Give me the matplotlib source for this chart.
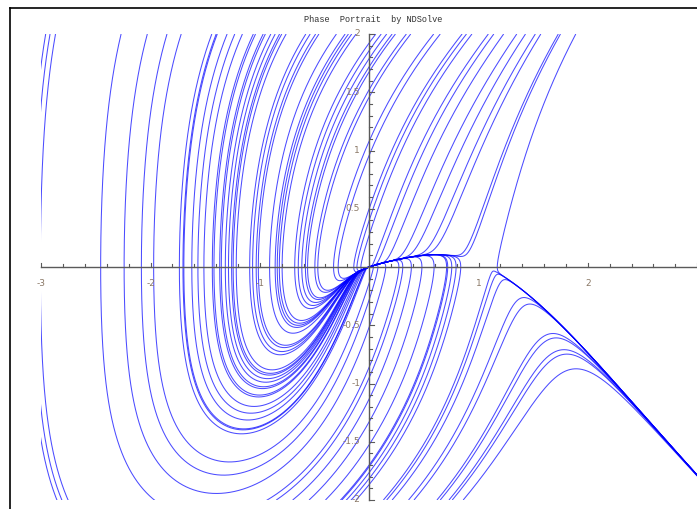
import numpy as np
import matplotlib
matplotlib.use("Agg")
import matplotlib.pyplot as plt
from matplotlib.lines import Line2D

# Where each trajectory enters the window: along the top edge (y = 2) and the bottom edge (y = -2)
top_entry_x = [-2.96, -2.92, -2.87, -2.27, -2.03, -1.85, -1.72, -1.44, -1.40, -1.39,
               -1.30, -1.23, -1.16, -1.06, -1.04, -0.97, -0.95, -0.90, -0.86, -0.82,
               -0.80, -0.76, -0.58, -0.54, -0.49, -0.46, -0.30, -0.22, -0.19, -0.16,
               -0.12, 0.06, 0.11, 0.16, 0.21, 0.24, 0.34, 0.38, 0.59, 0.65,
               0.85, 0.89, 0.94, 1.09, 1.14, 1.23, 1.35, 1.43, 1.52, 1.57,
               1.73, 1.75, 1.89]
bottom_entry_x = [-0.85, -0.70, -0.55, -0.40, -0.25, -0.12,
                  0.13, 0.16, 0.21, 0.36, 0.41, 0.62, 0.65, 0.73, 0.76, 0.86]

x_ticks_major = [-3, -2, -1, 1, 2]
y_ticks_major = [-2, -1.5, -1, -0.5, 0.5, 1, 1.5, 2]

# ODE:  x' = -y * m(y) ,  y' = RELAX * (S(x) - y)
# S(x) is the slow curve; it vanishes at the node (0) and at the saddle (ROOT).
RELAX = 3.0
ROOT = 1.08
BETA_LOW, BETA_HIGH = 0.45, 0.35


def slow_curve(x):
    q = 0.57 - 0.3 * np.exp(-((x - 0.1) / 0.8) ** 2)
    return x * (ROOT - x) * q


def field(x, y):
    m = 1 + np.where(y < 0, BETA_LOW, BETA_HIGH) * y * y
    return -y * m, RELAX * (slow_curve(x) - y)


def step_dir(x, y):
    fx, fy = field(x, y)
    s = np.sqrt(fx * fx + fy * fy + 0.02 ** 2)
    return fx / s, fy / s


def integrate(x0, y0, ds=0.003, steps=6000):
    x = np.array(x0, float)
    y = np.array(y0, float)
    xs = [x.copy()]
    ys = [y.copy()]
    alive = np.ones_like(x, bool)
    for _ in range(steps):
        k1x, k1y = step_dir(x, y)
        k2x, k2y = step_dir(x + 0.5 * ds * k1x, y + 0.5 * ds * k1y)
        k3x, k3y = step_dir(x + 0.5 * ds * k2x, y + 0.5 * ds * k2y)
        k4x, k4y = step_dir(x + ds * k3x, y + ds * k3y)
        nx = x + ds / 6 * (k1x + 2 * k2x + 2 * k3x + k4x)
        ny = y + ds / 6 * (k1y + 2 * k2y + 2 * k3y + k4y)
        alive &= (np.abs(nx) < 6) & (np.abs(ny) < 8)
        x = np.where(alive, nx, np.nan)
        y = np.where(alive, ny, np.nan)
        xs.append(x.copy())
        ys.append(y.copy())
    return np.array(xs), np.array(ys)


W, H = 697, 509
fig = plt.figure(figsize=(W / 100, H / 100), dpi=100)
ax = fig.add_axes([41.3 / W, 9 / H, (697.1 - 41.3) / W, 466 / H])
ax.set_xlim(-3, 3)
ax.set_ylim(-2, 2)
ax.axis("off")

starts_x = list(top_entry_x) + list(bottom_entry_x)
starts_y = [2.0] * len(top_entry_x) + [-2.0] * len(bottom_entry_x)
X, Y = integrate(starts_x, starts_y)
for i in range(X.shape[1]):
    ax.plot(X[:, i], Y[:, i], color=(0, 0, 1), lw=0.75, alpha=0.7,
            solid_capstyle="butt", zorder=2)

axis_col = "#5a5a5a"
ax.plot([-3, 3], [0, 0], color=axis_col, lw=1.0, zorder=3, clip_on=False)
ax.plot([0, 0], [-2, 2], color=axis_col, lw=1.0, zorder=3, clip_on=False)

px_x = 1 / 109.3
px_y = 1 / 116.5
for t in np.round(np.arange(-3, 3.001, 0.2), 2):
    if abs(t) < 1e-9:
        continue
    major = abs(t - round(t)) < 1e-9
    ln = (4.5 if major else 3.0) * px_y
    ax.plot([t, t], [0, ln], color=axis_col, lw=0.8, zorder=3, clip_on=False)
for t in np.round(np.arange(-2, 2.001, 0.1), 2):
    if abs(t) < 1e-9:
        continue
    major = abs(t * 2 - round(t * 2)) < 1e-9
    ln = (4.5 if major else 2.8) * px_x
    ax.plot([0, ln], [t, t], color=axis_col, lw=0.8, zorder=3, clip_on=False)

lab_col = "#8a7866"
for t in x_ticks_major:
    ax.text(t, -16 * px_y, f"{t:g}", ha="center", va="center", fontsize=6.5,
            color=lab_col, family="DejaVu Sans")
for t in y_ticks_major:
    ax.text(-9 * px_x, t, f"{t:g}", ha="right", va="center", fontsize=6.5,
            color=lab_col, family="DejaVu Sans")

fig.text(373 / W, 1 - 19 / H, "Phase  Portrait  by NDSolve", ha="center", va="center",
         fontsize=6.2, color="#333333", family="Liberation Mono")

fig.add_artist(Line2D([9.5 / W, 9.5 / W], [0, 1 - 8 / H], color="black", lw=1.2,
                      transform=fig.transFigure))
fig.add_artist(Line2D([9.5 / W, 1], [1 - 8 / H, 1 - 8 / H], color="black", lw=1.2,
                      transform=fig.transFigure))

fig.savefig("out.png", dpi=100, facecolor="white")
